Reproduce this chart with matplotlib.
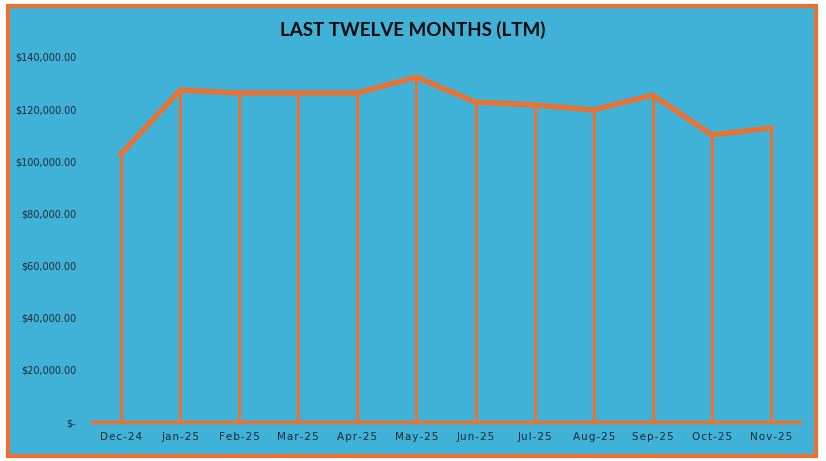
import matplotlib.pyplot as plt
from matplotlib.patches import Rectangle
from matplotlib.ticker import FuncFormatter

# monthly totals, last twelve months
months = ["Dec-24", "Jan-25", "Feb-25", "Mar-25", "Apr-25", "May-25",
          "Jun-25", "Jul-25", "Aug-25", "Sep-25", "Oct-25", "Nov-25"]
totals = [102800, 127300, 126200, 126200, 126200, 132300,
          122700, 121600, 119700, 125400, 110100, 112800]
y_ticks = [0, 20000, 40000, 60000, 80000, 100000, 120000, 140000]

ORANGE = "#E97132"
BLUE = "#40B2D8"

fig = plt.figure(figsize=(8.26, 4.61), dpi=100)
fig.patch.set_facecolor("white")

# chart area box with orange border, kept behind the axes
fig.patches.append(Rectangle((8 / 826, 5 / 461), 808 / 826, 450 / 461,
                             transform=fig.transFigure, facecolor=BLUE,
                             edgecolor=ORANGE, linewidth=3, zorder=-5))

ax = fig.add_axes([91.5 / 826, 1 - 422 / 461, 709 / 826, 365 / 461])
ax.set_facecolor("none")
ax.set_zorder(2)

x = list(range(len(months)))
ax.vlines(x, 0, totals, color=ORANGE, linewidth=2.2, zorder=2)
ax.plot(x, totals, color=ORANGE, linewidth=3.8, solid_joinstyle="miter", zorder=3)

ax.set_xlim(-0.5, len(months) - 0.5)
ax.set_ylim(0, 140000)
ax.set_xticks(x)
# hair spaces give the letter-spaced look of the x labels
spaced = ["\u200a".join(m) for m in months]
ax.set_xticklabels(spaced, family="DejaVu Sans", fontsize=7.5, color="#1a2a33")
ax.set_yticks(y_ticks)
ax.yaxis.set_major_formatter(FuncFormatter(
    lambda v, p: "$-" if v == 0 else "${:,.2f}".format(v)))
ax.tick_params(axis="y", labelsize=7.0, colors="#1a2a33", length=0, pad=11)
ax.tick_params(axis="x", length=0, pad=7)

for s in ["top", "right", "left"]:
    ax.spines[s].set_visible(False)
ax.spines["bottom"].set_color(ORANGE)
ax.spines["bottom"].set_linewidth(2.5)

fig.text(0.5, 1 - 30 / 461, "LAST TWELVE MONTHS (LTM)", ha="center", va="center",
         family="Lato", fontweight="bold", fontsize=13.5, color="#0a0a0a")

fig.savefig("out.png", dpi=100)
